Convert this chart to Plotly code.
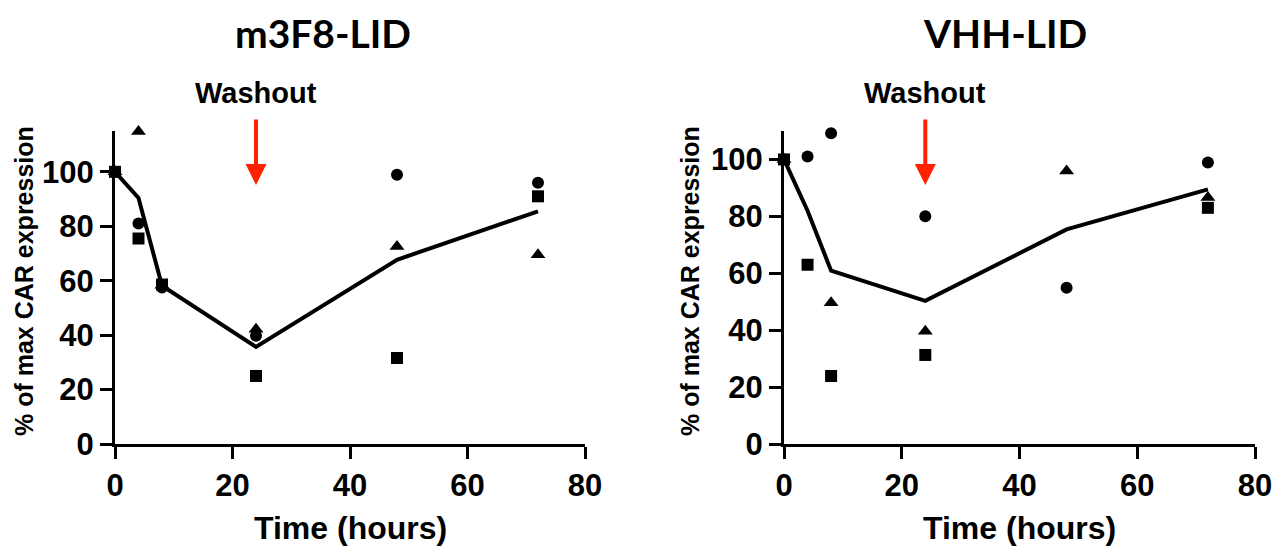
import numpy as np
import plotly.graph_objects as go

# ---------------- data ----------------
time_h = [0, 4, 8, 24, 48, 72]

m3f8_circle = [100, 81, 57.5, 39.8, 98.9, 96]
m3f8_triangle = [100, 114.8, 58.3, 42.2, 72.6, 69.5]
m3f8_square = [100, 75.5, 58.6, 25, 31.6, 91]

vhh_circle = [100, 101, 109.2, 80, 54.9, 98.9]
vhh_triangle = [100, None, 49.6, 39.6, 95.9, 86.6]
vhh_square = [100, 63, 23.9, 31.3, None, 83]

panel_titles = ["m3F8-LID", "VHH-LID"]
washout_time = 24
washout_label = "Washout"
x_title = "Time (hours)"
y_title = "% of max CAR expression"
x_ticks = [0, 20, 40, 60, 80]
y_ticks = [0, 20, 40, 60, 80, 100]
y_max = [115, 110]

# ---------------- figure ----------------
W, H = 1288, 553
OFF = 8  # page body margin offset


def px(xs):
    return (xs - OFF) / W


def py(ys):
    return 1 - (ys - OFF) / H


AX_FONT = "Liberation Sans, Arial, sans-serif"
TITLE_FONT = "Lato, Open Sans, sans-serif"

panels = [
    dict(circle=m3f8_circle, triangle=m3f8_triangle, square=m3f8_square,
         xa="x", ya="y", xdom=[px(115), px(585)], ycap=24, title_x=323),
    dict(circle=vhh_circle, triangle=vhh_triangle, square=vhh_square,
         xa="x2", ya="y2", xdom=[px(784), px(1255)], ycap=690, title_x=1005),
]

fig = go.Figure()


def arr(v):
    return np.array([np.nan if a is None else a for a in v], dtype=float)


annotations = []
for i, p in enumerate(panels):
    reps = np.vstack([arr(p["circle"]), arr(p["triangle"]), arr(p["square"])])
    mean = np.nanmean(reps, axis=0)
    fig.add_trace(go.Scatter(x=time_h, y=mean, mode="lines",
                             line=dict(color="black", width=4),
                             xaxis=p["xa"], yaxis=p["ya"], showlegend=False,
                             cliponaxis=False))
    for key, sym, sz in [("circle", "circle", 12), ("triangle", "triangle-up", 13),
                         ("square", "square", 12)]:
        fig.add_trace(go.Scatter(x=time_h, y=arr(p[key]), mode="markers",
                                 marker=dict(symbol=sym, size=sz, color="black"),
                                 xaxis=p["xa"], yaxis=p["ya"], showlegend=False,
                                 cliponaxis=False))
    annotations.append(dict(text=panel_titles[i], xref="paper", yref="paper",
                            x=px(p["title_x"]), y=1, showarrow=False,
                            xanchor="center", yanchor="top",
                            font=dict(family=TITLE_FONT, size=39, color="black", weight=700)))
    annotations.append(dict(text=washout_label, xref=p["xa"], yref="paper",
                            x=washout_time, y=py(93), showarrow=False,
                            xanchor="center", yanchor="middle",
                            font=dict(family=AX_FONT, size=29, color="black", weight=700)))
    annotations.append(dict(text="", xref=p["xa"], yref="paper",
                            x=washout_time, y=py(185), ax=0, ay=-67,
                            showarrow=True, arrowhead=2, arrowsize=1.05,
                            arrowwidth=4, arrowcolor="#FF2200", standoff=0))
    annotations.append(dict(text=x_title, xref=p["xa"] + " domain", yref="paper",
                            x=0.5, y=py(528), showarrow=False,
                            xanchor="center", yanchor="middle",
                            font=dict(family=AX_FONT, size=32, color="black", weight=700)))
    annotations.append(dict(text=y_title, xref="paper", yref="paper",
                            x=px(p["ycap"]), y=py(281), showarrow=False,
                            textangle=-90, xanchor="center", yanchor="middle",
                            font=dict(family=AX_FONT, size=25, color="black", weight=700)))

ydom = [py(444), py(131)]
axis_common = dict(showline=True, linecolor="black", linewidth=3, ticks="outside",
                   ticklen=12, tickwidth=3, tickcolor="black", showgrid=False,
                   zeroline=False, automargin=False,
                   tickfont=dict(family=AX_FONT, size=31, color="black", weight=700))

layout = dict(
    width=W, height=H, autosize=False,
    margin=dict(l=0, r=0, t=0, b=0, pad=0, autoexpand=False),
    paper_bgcolor="white", plot_bgcolor="white", showlegend=False,
    annotations=annotations,
)
for i, p in enumerate(panels):
    sfx = "" if i == 0 else "2"
    layout["xaxis" + sfx] = dict(axis_common, domain=p["xdom"], range=[0, 80],
                                 tickvals=x_ticks, anchor="y" + sfx)
    layout["yaxis" + sfx] = dict(axis_common, domain=ydom, range=[0, y_max[i]],
                                 tickvals=y_ticks, anchor="x" + sfx)

fig.update_layout(**layout)
fig.write_html("out.html")
